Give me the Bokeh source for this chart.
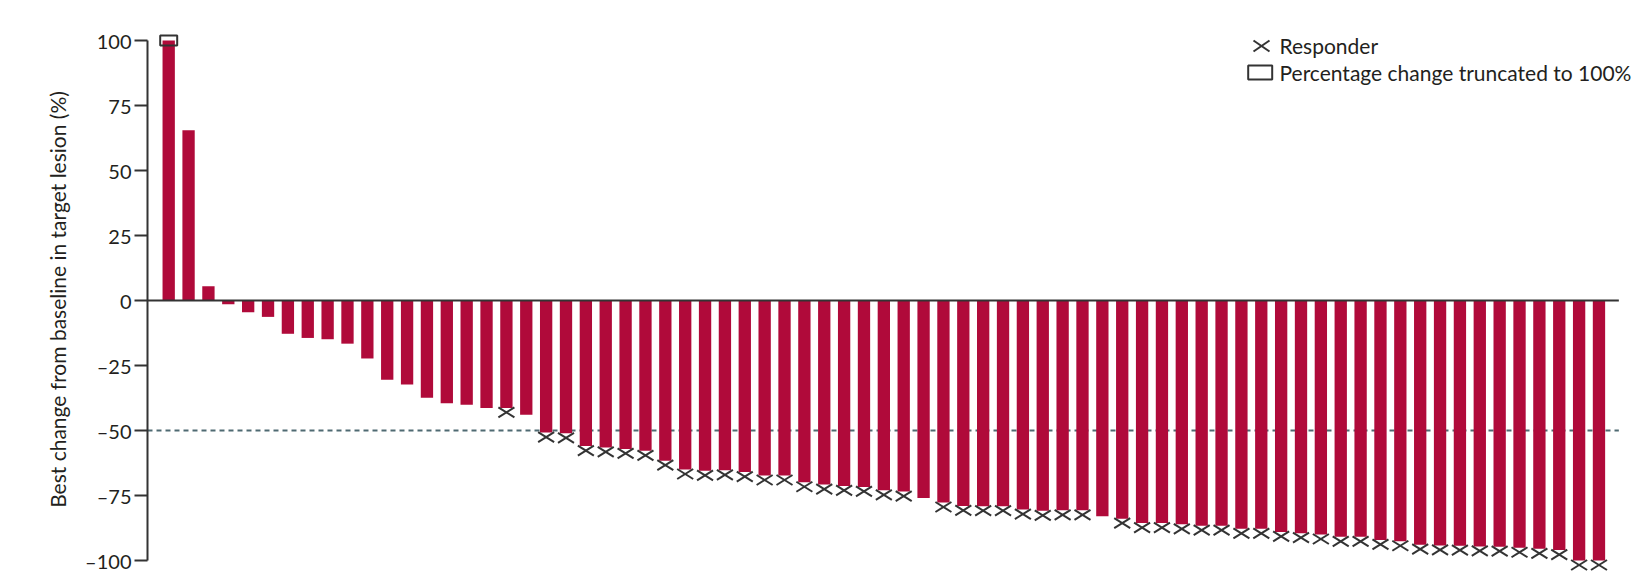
from bokeh.plotting import figure
from bokeh.models import Range1d, FixedTicker
from bokeh.core.properties import value
from bokeh.embed import file_html
from bokeh.resources import INLINE

# ---------------- data ----------------
change = [100, 65.5, 5.5, -1.4, -4.5, -6.3, -12.8, -14.4, -14.9, -16.6,
          -22.3, -30.5, -32.3, -37.4, -39.5, -40.1, -41.3, -41.3, -43.9, -50.8,
          -51.1, -56.0, -56.5, -57.1, -57.8, -61.6, -65.0, -65.5, -65.3, -66.0,
          -67.3, -67.3, -69.9, -70.8, -71.3, -71.7, -73.0, -73.5, -76.0, -77.7,
          -79.0, -79.1, -79.1, -80.4, -80.9, -80.7, -80.7, -83.0, -83.9, -85.6,
          -85.6, -86.1, -86.6, -86.6, -87.8, -87.8, -89.0, -89.5, -90.0, -90.9,
          -90.9, -92.1, -92.6, -93.9, -94.2, -94.3, -94.6, -94.7, -95.1, -95.5,
          -96.0, -100, -100]
responder = [0, 0, 0, 0, 0, 0, 0, 0, 0, 0,
             0, 0, 0, 0, 0, 0, 0, 1, 0, 1,
             1, 1, 1, 1, 1, 1, 1, 1, 1, 1,
             1, 1, 1, 1, 1, 1, 1, 1, 0, 1,
             1, 1, 1, 1, 1, 1, 1, 0, 1, 1,
             1, 1, 1, 1, 1, 1, 1, 1, 1, 1,
             1, 1, 1, 1, 1, 1, 1, 1, 1, 1,
             1, 1, 1]
truncated_patients = [1]
y_ticks = [-100, -75, -50, -25, 0, 25, 50, 75, 100]
threshold = -50
legend_labels = ["Responder", "Percentage change truncated to 100%"]

n = len(change)
patient = list(range(1, n + 1))

# ---------------- layout ----------------
W, H = 1640, 580
B_L, B_T, B_R, B_B = 147, 20, 0, 2
fw = W - B_L - B_R
fh = H - B_T - B_B
PX_X = 19.865   # pixels per patient slot
PX_Y = 2.6      # pixels per percentage point
x_start = 1 - 21.2 / PX_X
x_end = x_start + fw / PX_X
y_end = 280 / PX_Y
y_start = y_end - fh / PX_Y

FONT = "Lato"
TXT = "#231f20"
DARK = "#333333"
BAR = "#B00A3A"

p = figure(width=W, height=H, x_range=Range1d(x_start, x_end),
           y_range=Range1d(y_start, y_end), output_backend="svg",
           toolbar_location=None, x_axis_location=None,
           min_border_left=B_L, min_border_right=B_R,
           min_border_top=B_T, min_border_bottom=B_B)
p.outline_line_color = None
p.grid.grid_line_color = None
p.background_fill_color = "white"
p.border_fill_color = "white"

line_end = n + 1

# threshold line
p.segment(x0=[x_start], x1=[line_end], y0=[threshold], y1=[threshold],
          line_color="#4f6a72", line_width=2, line_dash="5 4")

# bars
p.vbar(x=patient, top=change, bottom=0, width=0.62,
       fill_color=BAR, line_color=None)

# zero line
p.segment(x0=[x_start], x1=[line_end], y0=[0], y1=[0],
          line_color=DARK, line_width=2)

# responder crosses
hw = 8 / PX_X
hh = 5 / PX_Y
off = 4.5 / PX_Y
rx = [pt for pt, r in zip(patient, responder) if r]
ry = [c - off for c, r in zip(change, responder) if r]
p.segment(x0=[x - hw for x in rx], x1=[x + hw for x in rx],
          y0=[y + hh for y in ry], y1=[y - hh for y in ry],
          line_color=DARK, line_width=2)
p.segment(x0=[x - hw for x in rx], x1=[x + hw for x in rx],
          y0=[y - hh for y in ry], y1=[y + hh for y in ry],
          line_color=DARK, line_width=2)

# truncated marker
p.rect(x=truncated_patients, y=[change[i - 1] for i in truncated_patients],
       width=17, height=10, width_units="screen", height_units="screen",
       fill_color=None, line_color=DARK, line_width=2)

# y axis
ax = p.yaxis[0]
ax.ticker = FixedTicker(ticks=y_ticks)
ax.bounds = (min(y_ticks), max(y_ticks))
ax.major_label_overrides = {t: str(t).replace("-", "\u2013") for t in y_ticks}
ax.axis_line_width = 2
ax.axis_line_color = DARK
ax.major_tick_line_width = 2
ax.major_tick_line_color = DARK
ax.major_tick_out = 13
ax.major_tick_in = 0
ax.minor_tick_out = 0
ax.minor_tick_in = 0
ax.major_label_text_font = FONT
ax.major_label_text_font_size = "20px"
ax.major_label_text_color = TXT
ax.major_label_standoff = 3
ax.axis_label = "Best change from baseline in target lesion (%)"
ax.axis_label_text_font = FONT
ax.axis_label_text_font_size = "21px"
ax.axis_label_text_font_style = "normal"
ax.axis_label_text_color = TXT
ax.axis_label_standoff = 12

# legend (manual, positioned in pixels)
def dx(px):
    return x_start + (px - B_L) / PX_X

def dy(py):
    return (300 - py) / PX_Y

lx, ly = dx(1261), dy(45.5)
lhw, lhh = 8 / PX_X, 5.5 / PX_Y
p.segment(x0=[lx - lhw, lx - lhw], x1=[lx + lhw, lx + lhw],
          y0=[ly + lhh, ly - lhh], y1=[ly - lhh, ly + lhh],
          line_color=DARK, line_width=2)
p.rect(x=[dx(1259.7)], y=[dy(72)], width=24, height=14,
       width_units="screen", height_units="screen",
       fill_color=None, line_color=DARK, line_width=2)
p.text(x=[dx(1279), dx(1279)], y=[dy(44.5), dy(71.5)], text=legend_labels,
       text_font=value(FONT), text_font_size="21px", text_color=TXT,
       text_align="left", text_baseline="middle")

open("out.html", "w").write(file_html(p, INLINE))
